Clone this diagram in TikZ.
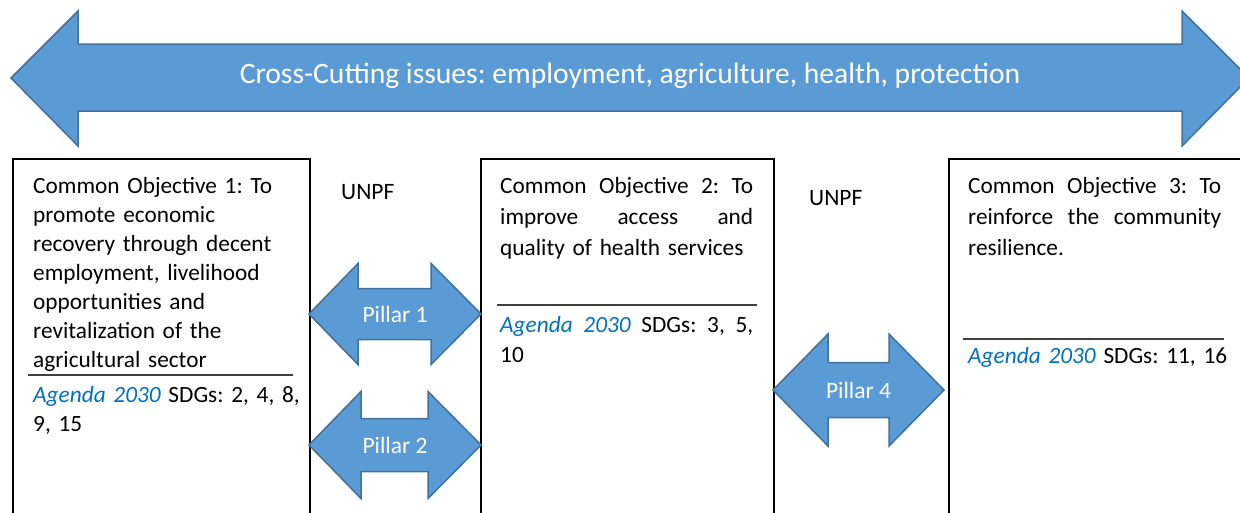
\documentclass[tikz,border=0pt]{standalone}
\usepackage{fontspec}
\setmainfont{Carlito}
\usepackage{tikz}
\frenchspacing

\definecolor{arrowblue}{HTML}{5B9BD5}
\definecolor{arrowedge}{HTML}{41719C}
\definecolor{agendablue}{HTML}{0070C0}

\begin{document}
\begin{tikzpicture}
[   x=1pt, y=-1pt,
    arrowfill/.style={fill=arrowblue,draw=arrowedge,line width=1.5pt,line join=miter},
    objbox/.style={draw=black,line width=1.6pt,minimum width=#1,minimum height=382,anchor=north west,inner sep=0},
    objtext/.style={anchor=base west,text width=#1,align=left,inner sep=0,font=\fontsize{23.3}{29}\selectfont},
    pillartext/.style={text=white,inner sep=0,font=\fontsize{23.5}{28}\selectfont},
    sepline/.style={draw=black!75,line width=1.3pt},
]
    \clip (0,0) rectangle (1240,512);

    % cross-cutting arrow on top
    \draw[arrowfill] (11,78) -- (78,11) -- (78,44) -- (1182,44) -- (1182,11) -- (1249,78)
        -- (1182,146) -- (1182,111) -- (78,111) -- (78,146) -- cycle;
    \node[text=white,inner sep=0,anchor=base,font=\fontsize{29.6}{34}\selectfont] (cross) at (630,83)
        {Cross-Cutting issues: employment, agriculture, health, protection};

    % the three objective boxes
    \node[objbox=297] (obj1) at (12,158) {};
    \node[objbox=293] (obj2) at (480,158) {};
    \node[objbox=292] (obj3) at (948,158) {};

    \node[objtext=280pt] (txt1) at (33,193)
        {Common Objective 1: To\\ promote economic\\ recovery through decent\\ employment, livelihood\\
         opportunities and\\ revitalization of the\\ agricultural sector};
    \draw[sepline] (28,375) -- (293,375);
    \node[objtext=280pt] (sdg1) at (33,402)
        {\textcolor{agendablue}{\itshape Agenda 2030} SDGs: 2, 4, 8,\\ 9, 15};

    \node[objtext=280pt,font=\fontsize{23.3}{31}\selectfont] (txt2) at (500,193)
        {\makebox[253pt][l]{Common\hfill Objective\hfill 2:\hfill To}\\
         \makebox[253pt][l]{improve\hfill access\hfill and}\\
         quality of health services};
    \draw[sepline] (497,305) -- (757,305);
    \node[objtext=280pt,font=\fontsize{23.3}{30}\selectfont] (sdg2) at (500,332)
        {\makebox[253pt][l]{\textcolor{agendablue}{\itshape Agenda\hfill 2030}\hfill SDGs:\hfill 3,\hfill 5,}\\ 10};

    \node[objtext=280pt,font=\fontsize{23.3}{31}\selectfont] (txt3) at (968,193)
        {\makebox[253pt][l]{Common\hfill Objective\hfill 3:\hfill To}\\
         \makebox[253pt][l]{reinforce\hfill the\hfill community}\\
         resilience.};
    \draw[sepline] (963,339) -- (1224,339);
    \node[objtext=280pt] (sdg3) at (968,363)
        {\textcolor{agendablue}{\itshape Agenda 2030} SDGs: 11, 16};

    % UNPF labels
    \node[inner sep=0,anchor=base west,font=\fontsize{23.5}{28}\selectfont] (unpf1) at (341,199) {UNPF};
    \node[inner sep=0,anchor=base west,font=\fontsize{23.5}{28}\selectfont] (unpf2) at (809,205) {UNPF};

    % pillar arrows: tips, head bases, centre y, half head, half shaft
    \foreach \n/\xa/\xb/\xc/\xd/\yc/\hh/\hs/\lab in
        {pil1/309/358/431/481/314/50.5/25.5/Pillar 1,
         pil2/309/361/428/481/445/53.5/26.5/Pillar 2,
         pil4/773/828/889/944/390/56/27.5/Pillar 4}
    {   \draw[arrowfill] (\xa,\yc) -- (\xb,\yc-\hh) -- (\xb,\yc-\hs) -- (\xc,\yc-\hs) -- (\xc,\yc-\hh)
            -- (\xd,\yc) -- (\xc,\yc+\hh) -- (\xc,\yc+\hs) -- (\xb,\yc+\hs) -- (\xb,\yc+\hh) -- cycle;
        \node[pillartext] (\n) at ({(\xa+\xd)/2},\yc) {\lab};
    }
\end{tikzpicture}
\end{document}
